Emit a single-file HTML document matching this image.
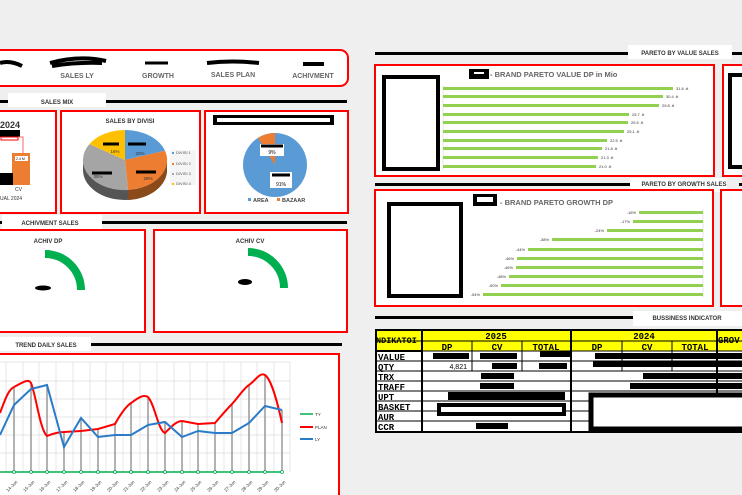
<!DOCTYPE html>
<html><head><meta charset="utf-8"><style>
html,body{margin:0;padding:0;background:#efefef;}
svg{display:block;font-family:"Liberation Sans",sans-serif;}
.t{font-weight:bold;fill:#333;font-size:6px}
.g{font-weight:bold;fill:#666}
.m{font-family:"Liberation Mono",monospace;font-weight:bold;font-size:9px;fill:#000}
</style></head><body>
<svg width="742" height="495" viewBox="0 0 742 495" xmlns="http://www.w3.org/2000/svg">
<rect width="742" height="495" fill="#efefef"/>
<!-- KPI bar -->
<rect x="-10" y="50" width="358" height="36" rx="8" fill="#fff" stroke="#f00" stroke-width="2"/>
<path d="M0,63 q10,-3 22,3" stroke="#000" stroke-width="4" fill="none"/>
<path d="M50,63 q30,-8 56,-2 M52,66 q25,-4 50,-3" stroke="#000" stroke-width="4" fill="none"/>
<path d="M145,63 h23" stroke="#000" stroke-width="3"/>
<path d="M207,63 q25,-3 52,0" stroke="#000" stroke-width="4"/>
<path d="M303,64 h21" stroke="#000" stroke-width="4"/>
<g class="g" font-size="7" text-anchor="middle">
<text x="77" y="78">SALES LY</text><text x="158" y="78">GROWTH</text>
<text x="233" y="77">SALES PLAN</text><text x="313" y="78">ACHIVMENT</text></g>
<!-- SALES MIX header -->
<rect x="0" y="100" width="347" height="3" fill="#000"/>
<rect x="8" y="93" width="98" height="14" fill="#fff"/>
<text x="57" y="104" class="t" text-anchor="middle">SALES MIX</text>
<!-- box1 -->
<rect x="-5" y="111" width="61" height="102" fill="#fff" stroke="#f00" stroke-width="2"/>
<text x="0" y="128" font-size="9" font-weight="bold" fill="#333">2024</text>
<rect x="0" y="130" width="20" height="7" fill="#000"/>
<rect x="1" y="137" width="17" height="3" fill="#fff" stroke="#f00"/>
<path d="M18,137 H23 V153" stroke="#f66" fill="none"/>
<rect x="12" y="153" width="18" height="32" fill="#ed7d31"/>
<rect x="15" y="156" width="13" height="5" fill="#fff"/>
<text x="16" y="160" font-size="3.5">2.4 M</text>
<rect x="0" y="173" width="13" height="12" fill="#000"/>
<text x="15" y="191" font-size="5" fill="#333">CV</text>
<text x="0" y="200" font-size="5" fill="#333">UAL 2024</text>
<!-- box2 pie -->
<rect x="61" y="111" width="139" height="102" fill="#fff" stroke="#f00" stroke-width="2"/>
<text x="130" y="123" class="t" text-anchor="middle">SALES BY DIVISI</text>
<path d="M83,160 A42,30 0 0 0 167,160 V170 A42,30 0 0 1 83,170 Z" fill="#555"/>
<path d="M128,190 A42,30 0 0 0 167,160 V170 A42,30 0 0 1 128,200 Z" fill="#8a4a1a"/>
<path d="M125,160 L125,130 A42,30 0 0 1 165,150.7 Z" fill="#5b9bd5"/>
<path d="M125,160 L165,150.7 A42,30 0 0 1 128,190 Z" fill="#ed7d31"/>
<path d="M125,160 L128,190 A42,30 0 0 1 89.4,144.1 Z" fill="#a5a5a5"/>
<path d="M125,160 L89.4,144.1 A42,30 0 0 1 125,130 Z" fill="#ffc000"/>
<g font-size="4.5" fill="#333" text-anchor="middle"><text x="140" y="155">20%</text><text x="148" y="180">29%</text><text x="98" y="178">35%</text><text x="115" y="153">16%</text></g>
<g stroke="#000" stroke-width="3"><path d="M103,144h16 M128,144h18 M92,173h20 M136,172h20"/></g>
<rect x="170" y="150" width="26" height="35" fill="#f5f5f5"/>
<g font-size="4" fill="#555"><rect x="172" y="152" width="2" height="2" fill="#5b9bd5"/><text x="176" y="154">DIVISI 1</text>
<rect x="172" y="163" width="2" height="2" fill="#ed7d31"/><text x="176" y="165">DIVISI 2</text>
<rect x="172" y="173" width="2" height="2" fill="#a5a5a5"/><text x="176" y="175">DIVISI 3</text>
<rect x="172" y="183" width="2" height="2" fill="#ffc000"/><text x="176" y="185">DIVISI 4</text></g>
<!-- box3 pie -->
<rect x="205" y="111" width="143" height="102" fill="#fff" stroke="#f00" stroke-width="2"/>
<rect x="213" y="115" width="121" height="10" fill="#000"/><rect x="217" y="118" width="113" height="4" fill="#fff"/>
<circle cx="275" cy="165" r="32" fill="#5b9bd5"/>
<path d="M275,165 L258,137.9 A32,32 0 0 1 275,133 Z" fill="#ed7d31"/>
<rect x="260" y="144" width="24" height="12" fill="#fff"/><text x="272" y="154" font-size="5" text-anchor="middle">9%</text>
<rect x="270" y="172" width="22" height="16" fill="#fff"/><text x="281" y="186" font-size="5" text-anchor="middle">91%</text>
<path d="M261,146h22 M272,175h18" stroke="#000" stroke-width="3"/>
<g font-size="5.5" font-weight="bold" fill="#444"><rect x="248" y="198" width="3" height="3" fill="#5b9bd5"/><text x="253" y="202">AREA</text>
<rect x="277" y="198" width="3" height="3" fill="#ed7d31"/><text x="282" y="202">BAZAAR</text></g>
<!-- ACHIV header -->
<rect x="0" y="221" width="347" height="3" fill="#000"/>
<rect x="2" y="215" width="100" height="14" fill="#fff"/>
<text x="50" y="225" class="t" text-anchor="middle">ACHIVMENT SALES</text>
<rect x="-5" y="230" width="150" height="102" fill="#fff" stroke="#f00" stroke-width="2"/>
<rect x="154" y="230" width="193" height="102" fill="#fff" stroke="#f00" stroke-width="2"/>
<text x="48" y="243" class="t" text-anchor="middle">ACHIV DP</text>
<text x="250" y="243" class="t" text-anchor="middle">ACHIV CV</text>
<path d="M45,254 A36,36 0 0 1 81,290" stroke="#00b050" stroke-width="8" fill="none"/>
<path d="M248,252 A36,36 0 0 1 284,288" stroke="#00b050" stroke-width="8" fill="none"/>
<ellipse cx="43" cy="288" rx="8" ry="2.5" fill="#000"/>
<ellipse cx="245" cy="282" rx="7" ry="3" fill="#000"/>
<!-- TREND header -->
<rect x="91" y="343" width="251" height="3" fill="#000"/>
<rect x="0" y="337" width="91" height="14" fill="#fff"/>
<text x="46" y="347" class="t" text-anchor="middle">TREND DAILY SALES</text>
<rect x="-5" y="354" width="344" height="150" fill="#fff" stroke="#f00" stroke-width="2"/>
<g stroke="#ddd" stroke-width="0.7">
<path d="M0,362H290 M0,381H290 M0,399H290 M0,417H290 M0,435H290 M0,453H290"/>
<path d="M6,362V472 M23,362V472 M39,362V472 M56,362V472 M73,362V472 M90,362V472 M106,362V472 M123,362V472 M140,362V472 M157,362V472 M174,362V472 M190,362V472 M207,362V472 M224,362V472 M241,362V472 M257,362V472 M274,362V472 M290,362V472"/></g>
<g stroke="#999" stroke-width="1.5">
<path d="M14,387V472 M31,383V472 M47,385V472 M64,432V472 M81,418V472 M98,429V472 M115,424V472 M131,403V472 M148,397V472 M165,422V472 M182,421V472 M198,424V472 M215,423V472 M232,404V472 M249,385V472 M265,375V472 M282,410V472"/></g>
<path d="M0,413 C5,400 8,390 14,387 C22,383 28,378 31,383 C36,395 40,430 47,436 C52,434 58,432 64,432 L81,431 L98,429 L115,424 C120,415 125,407 131,403 C138,398 143,394 148,397 C155,405 158,430 165,433 C170,428 176,421 182,421 L198,424 L215,423 C222,415 226,410 232,404 C240,395 244,388 249,385 C256,380 260,372 265,375 C272,380 278,405 282,423" stroke="#f00" stroke-width="2" fill="none"/>
<polyline points="0,435 14,405 31,389 47,385 64,447 81,418 98,437 115,435 131,435 148,425 165,422 182,437 198,431 215,433 232,433 249,423 265,406 282,410" stroke="#2a7bc8" stroke-width="2" fill="none"/>
<path d="M0,472H282" stroke="#00b050" stroke-width="1.5"/>
<g fill="#fff" stroke-width="0.8">
<g stroke="#00b050"><circle cx="14" cy="472" r="1.5"/><circle cx="31" cy="472" r="1.5"/><circle cx="47" cy="472" r="1.5"/><circle cx="64" cy="472" r="1.5"/><circle cx="81" cy="472" r="1.5"/><circle cx="98" cy="472" r="1.5"/><circle cx="115" cy="472" r="1.5"/><circle cx="131" cy="472" r="1.5"/><circle cx="148" cy="472" r="1.5"/><circle cx="165" cy="472" r="1.5"/><circle cx="182" cy="472" r="1.5"/><circle cx="198" cy="472" r="1.5"/><circle cx="215" cy="472" r="1.5"/><circle cx="232" cy="472" r="1.5"/><circle cx="249" cy="472" r="1.5"/><circle cx="265" cy="472" r="1.5"/><circle cx="282" cy="472" r="1.5"/></g></g>
<g font-size="4.5" fill="#333">
<text transform="translate(8,492) rotate(-45)">14-Jun</text><text transform="translate(25,492) rotate(-45)">15-Jun</text><text transform="translate(41,492) rotate(-45)">16-Jun</text><text transform="translate(58,492) rotate(-45)">17-Jun</text><text transform="translate(75,492) rotate(-45)">18-Jun</text><text transform="translate(92,492) rotate(-45)">19-Jun</text><text transform="translate(109,492) rotate(-45)">20-Jun</text><text transform="translate(125,492) rotate(-45)">21-Jun</text><text transform="translate(142,492) rotate(-45)">22-Jun</text><text transform="translate(159,492) rotate(-45)">23-Jun</text><text transform="translate(176,492) rotate(-45)">24-Jun</text><text transform="translate(192,492) rotate(-45)">25-Jun</text><text transform="translate(209,492) rotate(-45)">26-Jun</text><text transform="translate(226,492) rotate(-45)">27-Jun</text><text transform="translate(243,492) rotate(-45)">28-Jun</text><text transform="translate(259,492) rotate(-45)">29-Jun</text><text transform="translate(276,492) rotate(-45)">30-Jun</text></g>
<g font-size="4.5" fill="#333"><path d="M300,414h13" stroke="#00b050" stroke-width="1.5"/><text x="315" y="416">TY</text>
<path d="M300,427h13" stroke="#f00" stroke-width="2"/><text x="315" y="429">PLAN</text>
<path d="M300,439h13" stroke="#2a7bc8" stroke-width="2"/><text x="315" y="441">LY</text></g>

<!-- RIGHT: pareto value -->
<rect x="375" y="52" width="253" height="3" fill="#000"/><rect x="732" y="52" width="10" height="3" fill="#000"/>
<rect x="628" y="45" width="104" height="14" fill="#fff"/>
<text x="680" y="55" class="t" text-anchor="middle">PARETO BY VALUE SALES</text>
<rect x="375" y="65" width="339" height="111" fill="#fff" stroke="#f00" stroke-width="2"/>
<rect x="723" y="65" width="25" height="111" fill="#fff" stroke="#f00" stroke-width="2"/>
<rect x="730" y="75" width="20" height="92" fill="#fff" stroke="#000" stroke-width="4"/>
<rect x="384" y="77" width="54" height="92" fill="#fff" stroke="#000" stroke-width="4"/>
<rect x="469" y="69" width="20" height="10" fill="#000"/><rect x="474" y="72" width="10" height="2" fill="#fff"/>
<text x="490" y="77" font-size="7.5" class="g">- BRAND PARETO VALUE DP in Mio</text>
<path d="M443,85V170" stroke="#ddd" stroke-width="0.7"/>
<g fill="#92d050">
<rect x="443" y="87" width="230" height="3"/><rect x="443" y="95" width="220" height="3"/><rect x="443" y="104" width="216" height="3"/><rect x="443" y="113" width="186" height="3"/><rect x="443" y="121" width="185" height="3"/><rect x="443" y="130" width="181" height="3"/><rect x="443" y="139" width="164" height="3"/><rect x="443" y="147" width="159" height="3"/><rect x="443" y="156" width="155" height="3"/><rect x="443" y="165" width="153" height="3"/></g>
<g font-size="4" fill="#333">
<text x="676" y="90">31.6 .tt</text><text x="666" y="98">30.4 .tt</text><text x="662" y="107">29.8 .tt</text><text x="632" y="116">25.7 .tt</text><text x="631" y="124">25.5 .tt</text><text x="627" y="133">25.1 .tt</text><text x="610" y="142">22.5 .tt</text><text x="605" y="150">21.8 .tt</text><text x="601" y="159">21.3 .tt</text><text x="599" y="168">21.0 .tt</text></g>
<!-- pareto growth -->
<rect x="375" y="183" width="255" height="3" fill="#000"/><rect x="739" y="183" width="3" height="3" fill="#000"/>
<rect x="630" y="178" width="97" height="14" fill="#fff"/>
<text x="684" y="186" class="t" text-anchor="middle">PARETO BY GROWTH SALES</text>
<rect x="375" y="190" width="338" height="116" fill="#fff" stroke="#f00" stroke-width="2"/>
<rect x="721" y="190" width="25" height="116" fill="#fff" stroke="#f00" stroke-width="2"/>
<rect x="389" y="204" width="72" height="92" fill="#fff" stroke="#000" stroke-width="4"/>
<rect x="473" y="194" width="24" height="12" fill="#000"/><rect x="477" y="197" width="16" height="5" fill="#fff"/>
<text x="500" y="205" font-size="7.5" class="g">- BRAND PARETO GROWTH DP</text>
<path d="M703,209V297" stroke="#ddd" stroke-width="0.7"/>
<g fill="#92d050">
<rect x="639" y="211" width="64" height="3"/><rect x="633" y="220" width="70" height="3"/><rect x="607" y="229" width="96" height="3"/><rect x="552" y="238" width="151" height="3"/><rect x="528" y="248" width="175" height="3"/><rect x="517" y="257" width="186" height="3"/><rect x="516" y="266" width="187" height="3"/><rect x="509" y="275" width="194" height="3"/><rect x="501" y="284" width="202" height="3"/><rect x="483" y="293" width="220" height="3"/></g>
<g font-size="4" fill="#333" text-anchor="end">
<text x="636" y="214">-16%</text><text x="630" y="223">-17%</text><text x="604" y="232">-24%</text><text x="549" y="241">-38%</text><text x="525" y="251">-44%</text><text x="514" y="260">-46%</text><text x="513" y="269">-46%</text><text x="506" y="278">-48%</text><text x="498" y="287">-50%</text><text x="480" y="296">-54%</text></g>
<!-- business indicator -->
<rect x="375" y="316" width="258" height="3" fill="#000"/>
<rect x="633" y="311" width="109" height="15" fill="#fff"/>
<text x="687" y="320" class="t" text-anchor="middle" fill="#555">BUSSINESS INDICATOR</text>
<rect x="375" y="329" width="370" height="22" fill="#ff0"/>
<rect x="375" y="351" width="370" height="81" fill="#fff"/>
<g stroke="#000" stroke-width="1" fill="none">
<path d="M375,341H742 M422,351H742 M375,361H742 M375,371H742 M375,381H742 M375,391H742 M375,401H742 M375,411H742 M375,421H742"/>
<path d="M472,341V371 M522,341V371 M622,341V371 M672,341V371"/>
</g>
<g stroke="#000" stroke-width="2" fill="none">
<rect x="376" y="330" width="370" height="102"/>
<path d="M422,329V432 M571,329V432 M717,329V432 M375,351H422"/></g>
<g class="m">
<text x="376" y="343" font-size="8.5">NDIKATOI</text>
<text x="496" y="339" text-anchor="middle">2025</text><text x="644" y="339" text-anchor="middle">2024</text>
<text x="718" y="343">GROV</text>
<text x="447" y="350" text-anchor="middle">DP</text><text x="497" y="350" text-anchor="middle">CV</text><text x="546" y="350" text-anchor="middle">TOTAL</text>
<text x="597" y="350" text-anchor="middle">DP</text><text x="647" y="350" text-anchor="middle">CV</text><text x="695" y="350" text-anchor="middle">TOTAL</text>
<text x="378" y="360">VALUE</text><text x="378" y="370">QTY</text><text x="378" y="380">TRX</text><text x="378" y="390">TRAFF</text><text x="378" y="400">UPT</text><text x="378" y="410">BASKET</text><text x="378" y="420">AUR</text><text x="378" y="430">CCR</text></g>
<text x="467" y="369" font-size="7" text-anchor="end">4,821</text>
<g fill="#000">
<rect x="433" y="353" width="36" height="6"/><rect x="480" y="353" width="37" height="6"/><rect x="540" y="351" width="30" height="6"/>
<rect x="595" y="353" width="147" height="6"/><rect x="593" y="361" width="149" height="6"/>
<rect x="492" y="363" width="25" height="6"/><rect x="539" y="363" width="28" height="6"/>
<rect x="481" y="373" width="33" height="6"/><rect x="480" y="383" width="34" height="6"/>
<rect x="643" y="373" width="99" height="6"/><rect x="630" y="383" width="112" height="6"/>
<rect x="448" y="392" width="117" height="8"/><rect x="476" y="423" width="32" height="6"/></g>
<rect x="439" y="405" width="125" height="9" fill="#fff" stroke="#000" stroke-width="4"/>
<rect x="591" y="395" width="155" height="34" fill="#fff" stroke="#000" stroke-width="5"/>
</svg>
</body></html>
